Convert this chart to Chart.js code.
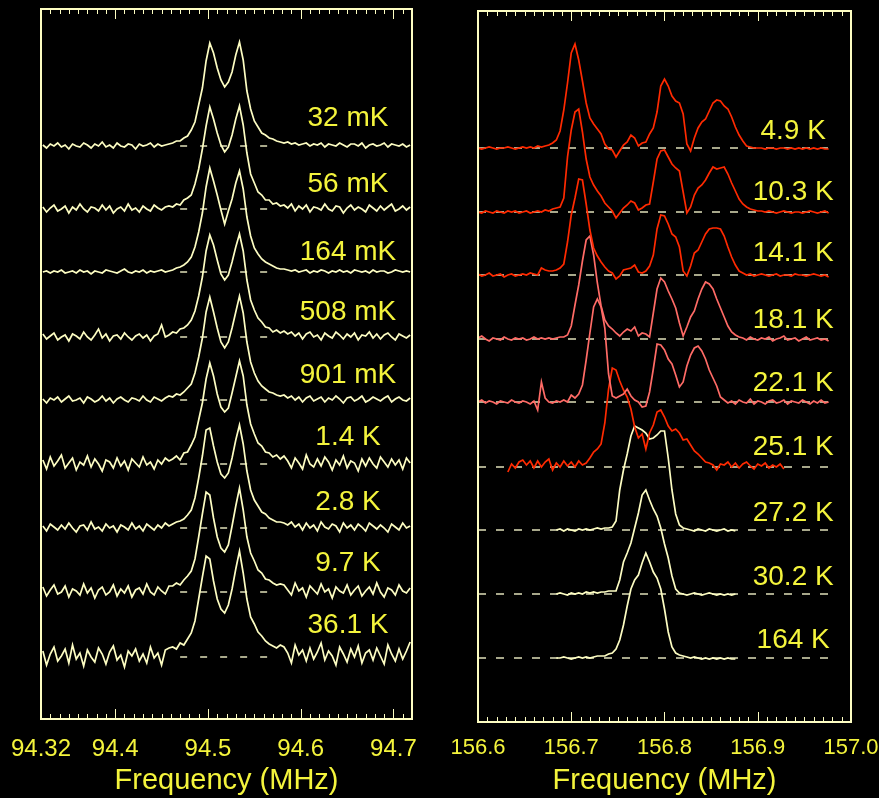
<!DOCTYPE html>
<html>
<head>
<meta charset="utf-8">
<script src="https://cdn.jsdelivr.net/npm/chart.js@4.4.1/dist/chart.umd.min.js"></script>
<style>
  html, body { margin: 0; padding: 0; background: #000; }
  #wrap { position: relative; width: 879px; height: 798px; background: #000; }
  canvas { position: absolute; left: 0; top: 0; }
</style>
</head>
<body>
<div id="wrap">
  <canvas id="leftChart" width="879" height="798"></canvas>
  <canvas id="rightChart" width="879" height="798"></canvas>
</div>
<script>
// ---- left panel: 94.5 MHz line, frequency grid 94.322 + 0.004*k ----
const leftStart = 94.322, leftStep = 0.004;
const leftTicks = [94.32, 94.4, 94.5, 94.6, 94.7];
const leftTemps = ['32 mK', '56 mK', '164 mK', '508 mK', '901 mK', '1.4 K', '2.8 K', '9.7 K', '36.1 K'];
const leftOffsets = [573, 510, 447, 382, 319, 255, 191, 127, 62];
const leftSpectra = [
  [1,-2,2,0,3,-1,1,-3,2,0,-1,3,1,-2,2,0,4,-1,1,-2,3,0,-1,2,1,-3,2,0,1,3,-1,2,0,1,2,
   3,5,5,8,10,16,24,41,58,85,103,93,78,66,59,64,74,91,104,86,55,37,25,19,13,11,8,7,5,4,
   3,4,2,3,1,2,3,0,2,1,3,-1,2,1,0,3,1,-1,2,2,0,3,-2,1,2,0,1,3,-1,2,1,0,2,-1,1],
  [2,-3,1,4,-2,0,3,-4,2,-1,5,0,-3,2,1,-2,4,-1,3,-4,0,2,-2,5,-1,1,-3,3,0,-2,4,1,-1,2,3,
   2,5,4,9,11,14,25,40,60,83,102,90,76,64,57,62,74,90,103,84,56,35,26,17,14,9,9,5,6,3,
   4,1,5,-2,3,0,4,-3,2,1,-1,5,0,-2,3,2,-4,1,4,-1,2,0,-3,4,1,-2,3,-1,2,5,-2,0,3,-1,2],
  [0,1,-1,1,0,2,-1,0,1,-1,2,0,1,-2,1,0,-1,2,1,0,-1,1,3,0,-1,1,0,2,-1,1,0,1,2,0,1,
   2,4,5,7,10,15,25,40,59,85,104,91,77,62,48,61,73,89,101,83,55,36,24,18,13,10,8,6,4,3,
   3,2,1,2,0,1,2,-1,1,0,2,1,-1,1,0,2,0,1,-1,2,1,0,1,-1,2,0,1,1,-1,0,2,1,0,1,0],
  [3,-2,1,4,-3,0,2,-4,3,1,-2,5,0,-3,2,8,-1,3,-4,1,2,-2,4,0,-3,1,3,-1,2,-4,1,3,12,0,2,
   5,4,8,9,12,17,26,41,60,86,102,92,77,63,57,62,75,90,103,86,57,37,27,19,15,10,9,5,7,4,
   6,3,5,1,4,-2,3,5,0,2,-3,4,1,-1,5,2,-2,3,0,4,-3,2,1,5,-1,3,-2,2,4,0,-3,3,1,-1,2],
  [1,-3,2,0,3,-2,1,4,-1,0,2,-3,3,1,-2,0,4,-1,2,-3,1,3,0,-2,2,1,-1,4,0,-2,3,1,-1,2,4,
   3,6,5,8,12,16,27,43,62,88,103,88,72,58,52,58,72,88,104,87,58,38,27,19,14,11,8,7,5,4,
   5,2,4,0,3,-2,2,4,-1,1,3,-2,2,0,4,1,-3,2,3,-1,1,4,-2,0,3,1,-1,2,4,-2,1,3,0,-1,2],
  [4,-5,7,-2,3,9,-4,1,6,-6,2,-1,8,-3,5,0,-7,4,2,-4,6,-2,3,-6,5,1,-3,7,-1,2,-5,4,0,6,3,
   5,8,4,11,12,19,27,44,61,85,101,88,70,57,52,56,71,87,103,88,59,40,30,21,18,12,11,7,9,5,
   8,3,-4,6,1,-5,9,0,-3,5,-2,7,2,-6,4,-1,8,-4,3,1,-7,5,-2,6,0,-4,7,2,-3,5,-1,4,-5,6,1],
  [2,-3,4,1,-2,3,-1,5,0,-4,2,3,-2,6,-1,1,-3,4,0,2,-4,3,1,-2,5,-1,2,-3,4,1,-2,3,0,5,2,
   4,6,7,9,13,18,30,50,72,98,100,82,66,54,50,55,70,88,103,84,57,38,28,22,16,14,10,8,6,6,
   5,3,6,1,4,-2,5,0,3,-3,6,1,-1,4,2,-4,5,0,3,-2,4,1,-3,5,2,-1,3,0,-4,4,1,-2,5,0,2],
  [5,-4,2,7,-2,0,6,-5,3,1,-3,8,-1,4,-6,2,5,-3,0,7,-4,3,-1,6,-5,2,4,-2,8,0,-3,5,1,-2,6,
   6,9,7,12,16,21,33,55,78,100,97,74,55,44,40,47,66,86,104,82,55,39,31,22,19,13,12,9,7,8,
   7,2,-3,9,1,4,-5,6,2,-2,8,0,3,-6,5,1,-1,7,-3,2,6,-4,1,5,-2,9,0,-5,4,2,-3,7,1,-1,4],
  [6,-8,3,10,-4,1,8,-6,12,-2,4,-9,7,0,-5,9,3,-7,5,11,-3,2,-10,6,1,8,-4,3,-6,10,-1,4,-8,7,9,
   10,8,14,12,18,24,36,58,80,101,98,76,58,48,44,52,68,88,106,84,58,40,33,25,21,16,13,11,9,12,
   10,4,-6,12,2,7,-4,9,-2,5,14,-3,6,1,-8,10,3,-5,8,0,11,-6,4,7,-3,9,1,-7,12,3,-4,8,-2,6,15]
];

// ---- right panel: 156.8 MHz line, frequency grid 156.6 + 0.004*k ----
const rightStart = 156.6, rightStep = 0.004;
const rightTicks = [156.6, 156.7, 156.8, 156.9, 157.0];
const rightTemps = ['4.9 K', '10.3 K', '14.1 K', '18.1 K', '22.1 K', '25.1 K', '27.2 K', '30.2 K', '164 K'];
const rightOffsets = [574, 510, 447, 383, 320, 255, 192, 128, 64];
const rightFirst = [0, 0, 0, 0, 0, 8, 21, 21, 21];
const rightSpectra = [
  [0,-1,0,1,0,-1,0,0,1,0, -1,0,1,0,1,0,2,1,2,3, 5,8,17,38,65,95,104,88,67,45,
   30,24,19,14,4,-1,-2,-9,-3,3, 6,13,10,2,5,6,14,20,36,62, 69,62,52,47,45,34,4,-3,10,20,
   26,29,37,45,48,47,42,39,31,21, 13,7,2,1,0,0,0,-1,0,0, -1,0,0,-1,0,-1,0,-1,0,-1, 0,-1,0,-1,-1],
  [0,-1,1,0,-1,1,0,-1,1,0, 1,-1,0,1,-1,0,1,0,2,1, 3,4,5,14,55,82,100,103,80,53,
   35,27,21,16,9,5,1,-6,-1,4, 7,11,9,2,4,7,8,30,53,61, 62,55,48,44,41,20,-1,5,17,24,
   27,32,39,45,43,44,45,38,29,21, 13,8,5,3,2,1,1,0,1,0, -1,0,1,0,-1,0,0,-1,0,1, 0,-1,0,1,-1],
  [1,-1,0,2,-1,0,1,-2,0,1, -1,0,1,0,2,1,0,7,5,4, 4,5,7,11,33,60,77,96,95,71,
   45,27,19,13,8,4,2,-4,-1,5, 6,7,10,3,2,4,9,20,46,60, 59,51,41,38,28,4,-1,9,22,25,
   33,41,46,47,47,46,39,28,18,10, 4,2,0,1,-1,0,1,0,-1,0, 1,-1,0,0,-1,1,0,0,-1,0, 1,0,-1,0,-2],
  [1,3,0,-2,1,0,-1,2,0,-1, 1,0,1,-1,0,2,0,1,0,1, 0,1,2,2,4,13,34,54,78,99,
   103,84,56,33,19,13,10,6,3,7, 10,8,12,3,6,5,2,26,50,61, 57,48,40,31,16,3,12,22,28,40,
   50,57,55,50,40,31,22,13,7,4, 2,1,-1,2,0,-1,1,0,2,-2, 0,1,3,-1,0,1,-2,0,2,-1, 0,1,-1,0,-2],
  [0,2,-1,1,0,-2,1,0,-1,2, 0,-1,1,0,-2,1,-8,20,4,0, -1,1,0,2,0,7,4,8,17,42,
   69,95,103,95,74,28,6,4,6,8, 13,6,2,0,-5,-4,10,33,58,57, 52,43,38,27,15,20,36,47,54,56,
   51,43,32,24,16,5,2,-1,1,-2, 2,0,-1,3,-2,1,0,-2,1,2, -1,0,2,-2,1,0,-1,2,0,-2, 1,-1,2,-1,0],
  [-5,3,-1,5,7,2,6,-1,6,0, 5,8,-3,4,0,6,1,5,0,6, 2,4,9,15,18,23,44,78,99,97,
   86,77,70,58,40,29,33,18,34,42, 55,57,50,41,36,38,34,27,28,22, 16,13,9,5,4,2,-3,3,2,5,
   0,4,-1,3,5,1,-2,3,1,4, -1,2,0,3,-2],
  [0,1,-1,1,0,-1,1,0,1,0, 1,2,1,2,2,3,9,40,60,76, 94,104,102,100,97,91,92,95,99,99,
   72,40,16,5,2,1,0,-1,1,0, -1,1,0,-1,0,1,-1,0,-1],
  [0,1,0,-1,1,0,1,0,2,1, 2,1,2,2,3,3,3,14,32,41, 51,66,81,99,104,94,85,78,66,50,
   36,18,5,1,0,-1,0,1,0,-1, 0,1,0,-1,0,-1,0,-1,0],
  [0,0,1,0,-1,0,1,0,1,0, 1,2,2,2,4,5,9,18,33,52, 69,78,83,95,105,96,86,80,69,49,
   26,11,5,3,2,1,0,1,0,-1, 0,-1,0,-1,0,-1,0,-1,-1]
];

// ---- styling ----
const CREAM = '#fdfdc2';
const DASH = 'rgba(235,235,195,0.95)';
const YELLOW = '#f4f43c';
const RED = '#ff2a00';
const SALMON = '#ff6b66';
const FONT = "'Liberation Sans', Arial, Helvetica, sans-serif";
const rightColors = [RED, RED, RED, SALMON, SALMON, RED, CREAM, CREAM, CREAM];

// text placement (data units: MHz across, trace units up from baseline)
const leftLabelX = 94.651, leftLift = [28, 25, 20, 25, 25, 27, 26, 29, 32];
const rightLabelX = 156.938, rightLift = [17, 20, 22, 19, 19, 20, 17, 17, 18];

const panelPlugin = {
  id: 'panel',
  afterDatasetsDraw(chart, args, o) {
    const { ctx, chartArea: a, scales: { x, y } } = chart;
    ctx.save();
    // inward minor/major ticks on top and bottom edges
    ctx.strokeStyle = CREAM;
    ctx.lineWidth = 1;
    const n = Math.round((x.max - x.min) / 0.01);
    for (let i = 0; i <= n; i++) {
      const v = x.min + i * 0.01;
      const major = Math.abs(v * 10 - Math.round(v * 10)) < 1e-6;
      const len = major ? 10 : 5;
      const px = Math.round(x.getPixelForValue(v)) + 0.5;
      ctx.beginPath();
      ctx.moveTo(px, a.bottom); ctx.lineTo(px, a.bottom - len);
      ctx.moveTo(px, a.top); ctx.lineTo(px, a.top + len);
      ctx.stroke();
    }
    // frame
    ctx.lineWidth = 2;
    ctx.strokeRect(a.left, a.top, a.right - a.left, a.bottom - a.top);
    // temperature labels
    ctx.fillStyle = YELLOW;
    ctx.font = '28px ' + FONT;
    ctx.textAlign = 'center';
    ctx.textBaseline = 'middle';
    o.texts.forEach((t, i) => {
      ctx.fillText(t, x.getPixelForValue(o.labelX), y.getPixelForValue(o.offsets[i] + o.lifts[i]));
    });
    ctx.restore();
  }
};

function buildDatasets(spectra, offsets, first, start, step, colors, width, dashFrom, dashTo, dash) {
  const sets = [];
  spectra.forEach((vals, i) => {
    sets.push({
      data: vals.map((v, j) => ({ x: start + step * (first[i] + j), y: v + offsets[i] })),
      borderColor: colors[i], borderWidth: width, pointRadius: 0, tension: 0, order: 0
    });
    sets.push({
      data: [{ x: dashFrom, y: offsets[i] }, { x: dashTo, y: offsets[i] }],
      borderColor: DASH, borderWidth: 1.5, borderDash: dash, pointRadius: 0, order: 1
    });
  });
  return sets;
}

function makeChart(id, cfg) {
  return new Chart(document.getElementById(id), {
    type: 'line',
    data: { datasets: cfg.datasets },
    plugins: [panelPlugin],
    options: {
      responsive: false,
      animation: false,
      events: [],
      layout: { padding: cfg.padding },
      plugins: {
        legend: { display: false },
        tooltip: { enabled: false },
        panel: cfg.panel
      },
      scales: {
        x: {
          type: 'linear',
          min: cfg.xmin, max: cfg.xmax,
          // invisible tick marks only push the labels down
          grid: { display: true, drawOnChartArea: false, drawTicks: true,
                  tickLength: cfg.tickGap, color: 'rgba(0,0,0,0)' },
          border: { display: false },
          afterBuildTicks: s => { s.ticks = cfg.ticks.map(v => ({ value: v })); },
          afterFit: s => { s.height = cfg.axisHeight; },
          ticks: {
            autoSkip: false, maxRotation: 0, color: YELLOW, padding: 0,
            font: { family: FONT, size: cfg.tickSize },
            callback: v => cfg.fmt(v)
          },
          title: {
            display: true, text: 'Frequency (MHz)', color: YELLOW,
            font: { family: FONT, size: 29 }, padding: { top: 0, bottom: 0 }
          }
        },
        y: { display: false, min: 0, max: cfg.ymax }
      }
    }
  });
}

makeChart('leftChart', {
  datasets: buildDatasets(leftSpectra, leftOffsets, leftSpectra.map(() => 0), leftStart, leftStep,
    leftSpectra.map(() => CREAM), 1.7, 94.47, 94.566, [7, 13]),
  padding: { left: 41, right: 879 - 412, top: 9, bottom: 0 },
  xmin: 94.32, xmax: 94.72, ymax: 710, axisHeight: 79, tickGap: 16, tickSize: 24,
  ticks: leftTicks, fmt: v => (Math.abs(v - 94.32) < 1e-6 ? '94.32' : v.toFixed(1)),
  panel: { texts: leftTemps, offsets: leftOffsets, lifts: leftLift, labelX: leftLabelX }
});

makeChart('rightChart', {
  datasets: buildDatasets(rightSpectra, rightOffsets, rightFirst, rightStart, rightStep,
    rightColors, 1.7, 156.6, 156.977, [8, 10]),
  padding: { left: 478, right: 879 - 851, top: 11, bottom: 0 },
  xmin: 156.6, xmax: 157.0, ymax: 711, axisHeight: 76, tickGap: 13, tickSize: 22,
  ticks: rightTicks, fmt: v => v.toFixed(1),
  panel: { texts: rightTemps, offsets: rightOffsets, lifts: rightLift, labelX: rightLabelX }
});
</script>
</body>
</html>
